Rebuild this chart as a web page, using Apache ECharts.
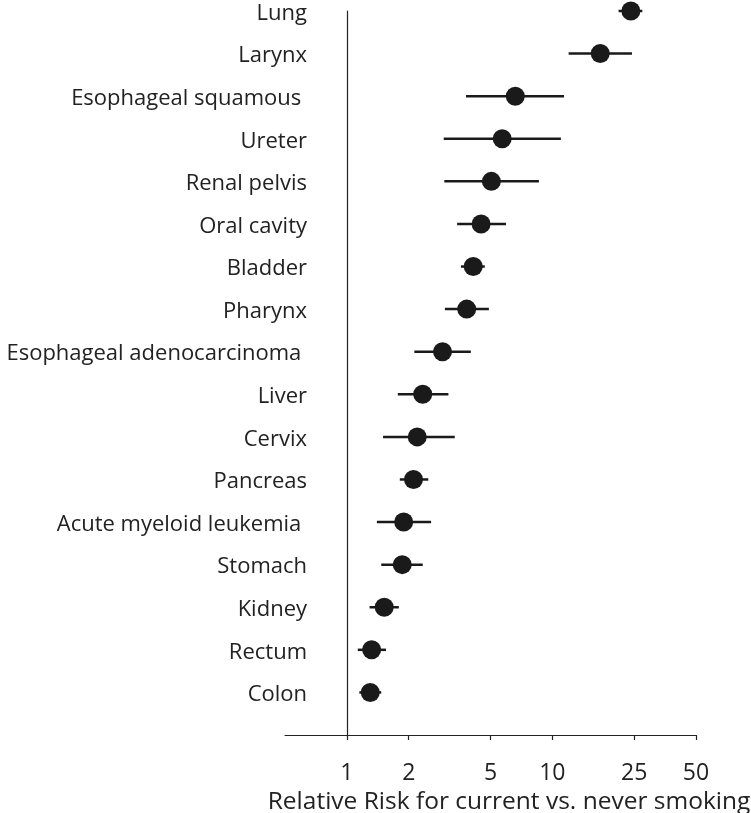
<!DOCTYPE html>
<html>
<head>
<meta charset="utf-8">
<script src="https://cdn.jsdelivr.net/npm/echarts@6/dist/echarts.min.js"></script>
<style>
html,body{margin:0;padding:0;background:#fff;}
#chart{width:751px;height:813px;}
</style>
</head>
<body>
<div id="chart"></div>
<script>
// Cancer sites, top to bottom
var sites = ["Lung","Larynx","Esophageal squamous ","Ureter","Renal pelvis","Oral cavity","Bladder","Pharynx","Esophageal adenocarcinoma ","Liver","Cervix","Pancreas","Acute myeloid leukemia ","Stomach","Kidney","Rectum","Colon"];
// Relative risk point estimates
var rr    = [24.1, 17.1, 6.6, 5.7, 5.05, 4.5, 4.12, 3.83, 2.92, 2.34, 2.2, 2.11, 1.89, 1.86, 1.52, 1.32, 1.30];
// Lower confidence limits
var lower = [21.0, 12.0, 3.8, 2.96, 2.98, 3.44, 3.59, 3.0, 2.13, 1.77, 1.5, 1.81, 1.4, 1.47, 1.29, 1.13, 1.15];
// Upper confidence limits
var upper = [27.4, 24.4, 11.4, 11.0, 8.6, 5.95, 4.69, 4.91, 4.01, 3.12, 3.35, 2.49, 2.57, 2.34, 1.79, 1.55, 1.47];
// X axis tick labels
var xTicks = [1, 2, 5, 10, 25, 50];
var xMin = 0.5, xMax = 50;

var n = sites.length;
function pos(i){ return n - i; }
var L = Math.log10;

var pointData = rr.map(function(v,i){ return [L(v), pos(i)]; });
var ciData = rr.map(function(v,i){ return [L(lower[i]), L(upper[i]), pos(i)]; });
var yVals = sites.map(function(s,i){ return pos(i); });

var font = "Open Sans";
var chart = echarts.init(document.getElementById('chart'));
chart.setOption({
  animation: false,
  backgroundColor: '#fff',
  grid: { left: 285, right: 55, top: 11, bottom: 78, containLabel: false, outerBoundsMode: 'none' },
  xAxis: {
    type: 'value',
    min: L(xMin), max: L(xMax),
    splitLine: { show: false },
    axisLine: { onZero: false, lineStyle: { color: '#222', width: 1.2 } },
    axisTick: { show: true, inside: false, length: 5, customValues: xTicks.map(L), lineStyle: { color: '#222', width: 1.2 } },
    axisLabel: {
      customValues: xTicks.map(L),
      formatter: function(v){ return String(Math.round(Math.pow(10, v))); },
      color: '#222', fontFamily: font, fontSize: 23, margin: 27
    },
    name: 'Relative Risk for current vs. never smoking',
    nameLocation: 'middle', nameGap: 51,
    nameTextStyle: { color: '#222', fontFamily: font, fontSize: 24.5, padding: [0, 0, 0, 37] }
  },
  yAxis: {
    type: 'value',
    min: 0, max: n,
    splitLine: { show: false },
    axisLine: { show: true, onZero: true, lineStyle: { color: '#222', width: 1.2 } },
    axisTick: { show: false },
    axisLabel: {
      customValues: yVals,
      formatter: function(v){ return '{t|' + (sites[n - v] || '') + '}'; },
      rich: { t: { color: '#222', fontFamily: font, fontSize: 22, padding: [5, 0, 0, 0] } },
      color: '#222', fontFamily: font, fontSize: 22, margin: -22
    }
  },
  series: [
    {
      type: 'custom',
      data: ciData,
      encode: { x: [0,1], y: 2 },
      renderItem: function(params, api){
        var a = api.coord([api.value(0), api.value(2)]);
        var b = api.coord([api.value(1), api.value(2)]);
        return { type: 'line', shape: { x1: a[0], y1: a[1], x2: b[0], y2: b[1] },
                 style: { stroke: '#1a1a1a', lineWidth: 2.5 } };
      },
      z: 2
    },
    {
      type: 'scatter',
      data: pointData,
      symbol: 'circle',
      symbolSize: 19,
      itemStyle: { color: '#1a1a1a', opacity: 1 },
      z: 3
    }
  ]
});
</script>
</body>
</html>
